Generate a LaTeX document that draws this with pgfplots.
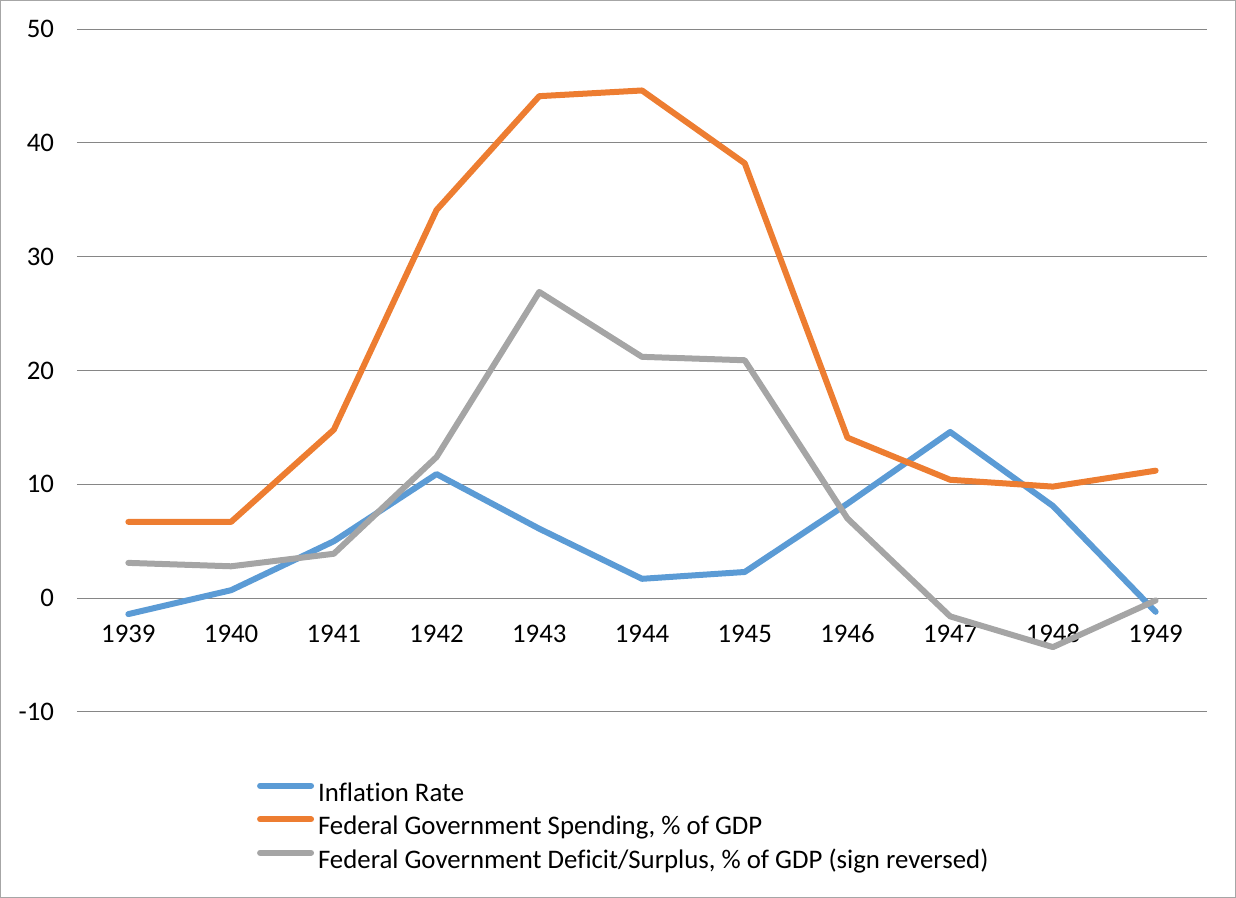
\documentclass[border=0pt]{standalone}
\usepackage{fontspec}
\setmainfont{Carlito}[Ligatures=NoCommon]
\usepackage{pgfplots}
\pgfplotsset{compat=1.18}

\definecolor{infl}{RGB}{91,155,213}
\definecolor{spend}{RGB}{237,125,49}
\definecolor{defic}{RGB}{165,165,165}
\definecolor{gridc}{RGB}{134,134,134}
\definecolor{framec}{RGB}{166,166,166}
\newcommand{\chartfont}{\fontsize{13.4}{15}\selectfont}

\begin{document}
\begin{tikzpicture}
\draw[framec, line width=0.6pt] (0.3pt,0.3pt) rectangle (617.7pt,448.7pt);
\begin{axis}[
  at={(38.5pt,93pt)}, anchor=south west,
  scale only axis, width=565pt, height=341.5pt,
  xmin=1938.5, xmax=1949.5, ymin=-10, ymax=50,
  xtick={1939,1940,1941,1942,1943,1944,1945,1946,1947,1948,1949},
  ytick={-10,0,10,20,30,40,50},
  ymajorgrids, grid style={gridc, line width=0.5pt},
  axis line style={draw=none},
  tick style={draw=none},
  tick label style={font=\chartfont},
  /pgf/number format/assume math mode=true,
  xticklabel style={/pgf/number format/1000 sep={}, anchor=base, yshift=34.5pt},
  yticklabel style={anchor=east, xshift=-8pt},
  legend style={at={(0.159,-0.101)}, anchor=north west, draw=none, fill=none,
    inner sep=0pt, font=\chartfont, row sep=3.75pt, column sep=0pt,
    nodes={inner ysep=0pt, inner xsep=2pt, text height=10pt, text depth=3pt}},
  legend cell align=left,
  legend image code/.code={\draw[#1, line cap=round] (1.5pt,4.3pt) -- (27pt,4.3pt);},
  every axis plot/.append style={line width=3pt, line join=round, line cap=round},
]
\addplot[infl] coordinates {
  (1939,-1.4) (1940,0.7) (1941,5.0) (1942,10.9) (1943,6.1) (1944,1.7)
  (1945,2.3) (1946,8.3) (1947,14.6) (1948,8.1) (1949,-1.2)};
\addplot[spend] coordinates {
  (1939,6.7) (1940,6.7) (1941,14.8) (1942,34.1) (1943,44.1) (1944,44.6)
  (1945,38.2) (1946,14.1) (1947,10.4) (1948,9.8) (1949,11.2)};
\addplot[defic] coordinates {
  (1939,3.1) (1940,2.8) (1941,3.9) (1942,12.4) (1943,26.9) (1944,21.2)
  (1945,20.9) (1946,7.0) (1947,-1.6) (1948,-4.3) (1949,-0.2)};
\legend{Inflation Rate,
  {Federal Government Spending, \% of GDP},
  {Federal Government Deficit/Surplus, \% of GDP (sign reversed)}}
\end{axis}
\end{tikzpicture}
\end{document}
